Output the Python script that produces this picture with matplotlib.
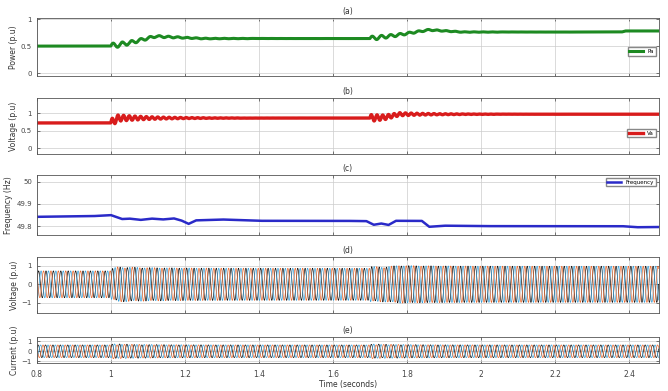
import numpy as np
import matplotlib
matplotlib.use("Agg")
import matplotlib.pyplot as plt

# ---- data ----
t_start, t_end = 0.8, 2.48
event_times = [1.0, 1.70]

# active power (p.u.) breakpoints
power_t = [0.8, 1.0, 1.05, 1.12, 1.25, 1.70, 1.77, 1.86, 1.95, 2.38, 2.39, 2.48]
power_v = [0.5, 0.5, 0.56, 0.68, 0.64, 0.64, 0.70, 0.80, 0.76, 0.76, 0.78, 0.78]
power_ripple = [0.05, 0.04]          # oscillation amplitude after each event

# terminal voltage (p.u.) breakpoints
volt_t = [0.8, 1.0, 1.02, 1.70, 1.74, 1.78, 2.48]
volt_v = [0.72, 0.72, 0.86, 0.86, 0.88, 0.97, 0.97]
volt_ripple = [0.11, 0.10]

# frequency (Hz) breakpoints
freq_t = [0.8, 0.95, 1.0, 1.03, 1.05, 1.08, 1.11, 1.14, 1.17, 1.19, 1.21, 1.23,
          1.30, 1.40, 1.60, 1.69, 1.71, 1.73, 1.75, 1.77, 1.84, 1.86, 1.90,
          2.00, 2.38, 2.42, 2.48]
freq_v = [49.842, 49.845, 49.850, 49.832, 49.834, 49.828, 49.834, 49.830, 49.835,
          49.826, 49.810, 49.826, 49.830, 49.824, 49.824, 49.823, 49.806, 49.812,
          49.805, 49.824, 49.824, 49.797, 49.802, 49.800, 49.800, 49.795, 49.796]

# three-phase current amplitude (p.u.) breakpoints
curr_t = [0.8, 1.0, 1.70, 2.48]
curr_v = [0.62, 0.62, 0.62, 0.62]
curr_ripple = [0.12, 0.10]

grid_freq = 50.0
x_ticks = [0.8, 1.0, 1.2, 1.4, 1.6, 1.8, 2.0, 2.2, 2.4]
x_tick_labels = ["0.8", "1", "1.2", "1.4", "1.6", "1.8", "2", "2.2", "2.4"]

# ---- signal construction ----
t = np.linspace(t_start, t_end, 60000)

def transient(amps, f_osc, tau):
    out = np.zeros_like(t)
    for te, a in zip(event_times, amps):
        m = t >= te
        dt = t[m] - te
        out[m] += a * np.exp(-dt / tau) * np.sin(2 * np.pi * f_osc * dt)
    return out

power = np.interp(t, power_t, power_v) + transient(power_ripple, 40, 0.12)
volt = np.interp(t, volt_t, volt_v) + transient(volt_ripple, 65, 0.10)
freq = np.interp(t, freq_t, freq_v)

v_amp = np.interp(t, volt_t, volt_v) + np.abs(transient(volt_ripple, 65, 0.10))
i_amp = np.interp(t, curr_t, curr_v) + np.abs(transient(curr_ripple, 30, 0.10))

phases = [0.0, -2 * np.pi / 3, 2 * np.pi / 3]
phase_colors = ["#111111", "#3aa0d8", "#e8682e"]

# ---- figure ----
fig = plt.figure(figsize=(6.68, 3.91), dpi=100)
left, width = 0.055, 0.931
boxes = [
    (0.806, 0.148),
    (0.606, 0.143),
    (0.399, 0.153),
    (0.199, 0.143),
    (0.0716, 0.0665),
]
axes = [fig.add_axes([left, b, width, h]) for b, h in boxes]

tick_fs = 5
label_fs = 5.5
title_fs = 5.5

def style(ax, title, ylabel, yticks, ylim, show_x=False):
    ax.set_xlim(t_start, t_end)
    ax.set_ylim(*ylim)
    ax.set_yticks(yticks)
    ax.set_xticks(x_ticks)
    if show_x:
        ax.set_xticklabels(x_tick_labels)
    else:
        ax.set_xticklabels([])
    ax.tick_params(labelsize=tick_fs, length=2, width=0.5, direction="in",
                   top=True, right=True, colors="#444444")
    ax.grid(True, color="#cccccc", linewidth=0.5)
    for s in ax.spines.values():
        s.set_linewidth(0.6)
        s.set_color("#555555")
    ax.set_title(title, fontsize=title_fs, pad=3, color="#333333")
    ax.set_ylabel(ylabel, fontsize=label_fs, labelpad=2, color="#333333")

leg_kw = dict(fontsize=4, handlelength=2.5, borderpad=0.3, framealpha=1,
              fancybox=False, edgecolor="#888888")

ax = axes[0]
ax.plot(t, power, color="#1d8a22", lw=2.2, label="Pa")
style(ax, "(a)", "Power (p.u)", [0, 0.5, 1], (-0.05, 1.02))
ax.set_yticklabels(["0", "0.5", "1"])
ax.legend(loc="lower right", bbox_to_anchor=(1.0, 0.3), **leg_kw)

ax = axes[1]
ax.plot(t, volt, color="#d81c1c", lw=2.4, label="Va")
style(ax, "(b)", "Voltage (p.u)", [0, 0.5, 1], (-0.17, 1.43))
ax.set_yticklabels(["0", "0.5", "1"])
ax.legend(loc="lower right", bbox_to_anchor=(1.0, 0.25), **leg_kw)

ax = axes[2]
ax.plot(t, freq, color="#2a2ac8", lw=1.8, label="Frequency")
style(ax, "(c)", "Frequency (Hz)", [49.8, 49.9, 50.0], (49.76, 50.03))
ax.set_yticklabels(["49.8", "49.9", "50"])
ax.legend(loc="upper right", **leg_kw)

ax = axes[3]
for ph, c in zip(phases, phase_colors):
    ax.plot(t, v_amp * np.sin(2 * np.pi * grid_freq * t + ph), color=c, lw=0.5)
style(ax, "(d)", "Voltage (p.u)", [-1, 0, 1], (-1.55, 1.45))

ax = axes[4]
for ph, c in zip(phases, phase_colors):
    ax.plot(t, i_amp * np.sin(2 * np.pi * grid_freq * t + ph + 0.4), color=c, lw=0.5)
style(ax, "(e)", "Current (p.u)", [-1, 0, 1], (-1.15, 1.4), show_x=True)
ax.tick_params(axis="x", labelsize=5.5, pad=5)
ax.set_xlabel("Time (seconds)", fontsize=label_fs, labelpad=1, color="#333333")

fig.savefig("out.png", dpi=100)
